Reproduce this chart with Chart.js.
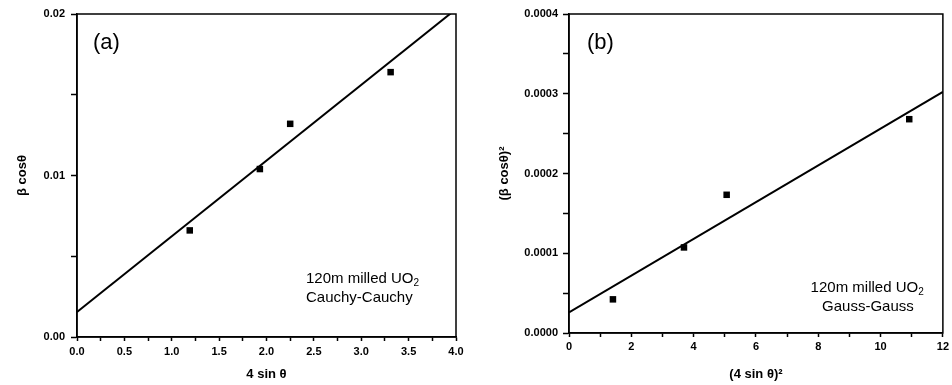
<!DOCTYPE html>
<html lang="en">
<head>
    <meta charset="UTF-8">
    <title>Williamson-Hall plots, 120m milled UO2</title>
    <script src="https://cdn.jsdelivr.net/npm/chart.js"></script>
    <style>
        body { margin: 0; background: #fff; }
        .wrap { position: relative; width: 952px; height: 385px; }
        .panel { position: absolute; top: 0; }
    </style>
</head>
<body>
    <div class="wrap">
        <div class="panel" style="left:0"><canvas id="chartA" width="476" height="385"></canvas></div>
        <div class="panel" style="left:476px"><canvas id="chartB" width="476" height="385"></canvas></div>
    </div>

    <script>
        // (a) Cauchy-Cauchy
        const sinA = [1.19, 1.93, 2.25, 3.31];
        const bcosA = [0.0066, 0.0104, 0.0132, 0.0164];
        const fitAx = [0, 4];
        const fitAy = [0.00155, 0.0203];
        const xTicksA = ['0.0', '0.5', '1.0', '1.5', '2.0', '2.5', '3.0', '3.5', '4.0'];
        const yTicksA = ['0.00', '0.01', '0.02'];

        // (b) Gauss-Gauss
        const sinB = [1.41, 3.69, 5.06, 10.92];
        const bcosB = [0.0000422, 0.0001073, 0.0001733, 0.0002681];
        const fitBx = [0, 12];
        const fitBy = [0.0000259, 0.0003023];
        const xTicksB = ['0', '2', '4', '6', '8', '10', '12'];
        const yTicksB = ['0.0000', '0.0001', '0.0002', '0.0003', '0.0004'];

        Chart.defaults.font.family = '"Liberation Sans", Arial, sans-serif';
        Chart.defaults.color = '#000';

        // frame round the plot area, panel letter and the sample note
        const frame = {
            id: 'frame',
            afterDatasetsDraw(chart, args, opts) {
                const { ctx, chartArea: a } = chart;
                ctx.save();
                ctx.strokeStyle = '#000';
                ctx.lineWidth = 1.5;
                ctx.strokeRect(a.left, a.top, a.width, a.height);

                ctx.fillStyle = '#000';
                ctx.textBaseline = 'middle';
                ctx.textAlign = 'left';
                ctx.font = '22px "Liberation Sans", Arial';
                ctx.fillText(opts.letter, a.left + opts.letterDx, a.top + 29);

                const big = '15px "Liberation Sans", Arial';
                ctx.font = big;
                const l1 = '120m milled UO';
                const w1 = ctx.measureText(l1).width + 7;
                const w2 = ctx.measureText(opts.method).width;
                let x1, x2;
                if (opts.center) {
                    x1 = a.right - opts.noteDx - w1 / 2;
                    x2 = a.right - opts.noteDx - w2 / 2;
                } else {
                    x1 = x2 = a.right - opts.noteDx;
                }
                const y1 = a.bottom - opts.noteDy;
                ctx.fillText(l1, x1, y1);
                ctx.font = '10px "Liberation Sans", Arial';
                ctx.fillText('2', x1 + w1 - 7, y1 + 4);
                ctx.font = big;
                ctx.fillText(opts.method, x2, y1 + 19);
                ctx.restore();
            }
        };

        function makeChart(id, xs, ys, fx, fy, cfg) {
            const pts = xs.map((x, i) => ({ x: x, y: ys[i] }));
            const fit = fx.map((x, i) => ({ x: x, y: fy[i] }));
            const tickFont = { size: 11, weight: 'bold' };
            return new Chart(document.getElementById(id), {
                type: 'scatter',
                data: {
                    datasets: [
                        {
                            data: fit,
                            showLine: true,
                            borderColor: '#000',
                            borderWidth: 2,
                            pointRadius: 0
                        },
                        {
                            data: pts,
                            pointStyle: 'rect',
                            pointRadius: 4.6,
                            backgroundColor: '#000',
                            borderColor: '#000',
                            borderWidth: 0
                        }
                    ]
                },
                options: {
                    responsive: false,
                    animation: false,
                    layout: { padding: { top: 14, right: cfg.padRight, left: 0, bottom: 0 } },
                    plugins: {
                        legend: { display: false },
                        tooltip: { enabled: false },
                        frame: cfg.frame
                    },
                    scales: {
                        x: {
                            type: 'linear',
                            min: cfg.xMin, max: cfg.xMax,
                            afterFit: s => { s.height = cfg.xHeight; },
                            grid: { drawOnChartArea: false, tickLength: 4, tickColor: '#000', tickWidth: 1.5 },
                            border: { color: '#000', width: 1.5 },
                            ticks: {
                                stepSize: cfg.xStep,
                                autoSkip: false,
                                maxRotation: 0,
                                padding: cfg.xPad,
                                font: tickFont,
                                callback: (v, i) => i % 2 === 0 ? cfg.xLabels[i / 2] : ''
                            },
                            title: {
                                display: true,
                                text: cfg.xTitle,
                                font: { size: 13, weight: 'bold' },
                                padding: { top: 0, bottom: 3 }
                            }
                        },
                        y: {
                            min: cfg.yMin, max: cfg.yMax,
                            afterFit: s => { s.width = cfg.yWidth; },
                            grid: { drawOnChartArea: false, tickLength: 6, tickColor: '#000', tickWidth: 1.5 },
                            border: { color: '#000', width: 1.5 },
                            ticks: {
                                stepSize: cfg.yStep,
                                autoSkip: false,
                                padding: cfg.yPad,
                                font: tickFont,
                                callback: (v, i) => i % 2 === 0 ? cfg.yLabels[i / 2] : ''
                            },
                            title: {
                                display: true,
                                text: cfg.yTitle,
                                font: { size: 13, weight: 'bold' },
                                padding: { top: cfg.yTitlePad, bottom: 0 }
                            }
                        }
                    }
                },
                plugins: [frame]
            });
        }

        makeChart('chartA', sinA, bcosA, fitAx, fitAy, {
            xMin: 0, xMax: 4, xStep: 0.25, xLabels: xTicksA, xTitle: '4 sin θ', xHeight: 48, xPad: 4,
            yMin: 0, yMax: 0.02, yStep: 0.005, yLabels: yTicksA, yTitle: 'β cosθ', yWidth: 77, yPad: 6, yTitlePad: 15,
            padRight: 20,
            frame: { letter: '(a)', letterDx: 16, method: 'Cauchy-Cauchy', center: false, noteDx: 150, noteDy: 58 }
        });

        makeChart('chartB', sinB, bcosB, fitBx, fitBy, {
            xMin: 0, xMax: 12, xStep: 1, xLabels: xTicksB, xTitle: '(4 sin θ)²', xHeight: 52, xPad: 3,
            yMin: 0, yMax: 0.0004, yStep: 0.00005, yLabels: yTicksB, yTitle: '(β cosθ)²', yWidth: 93, yPad: 5, yTitlePad: 21,
            padRight: 8,
            frame: { letter: '(b)', letterDx: 18, method: 'Gauss-Gauss', center: true, noteDx: 75, noteDy: 45 }
        });
    </script>
</body>
</html>
